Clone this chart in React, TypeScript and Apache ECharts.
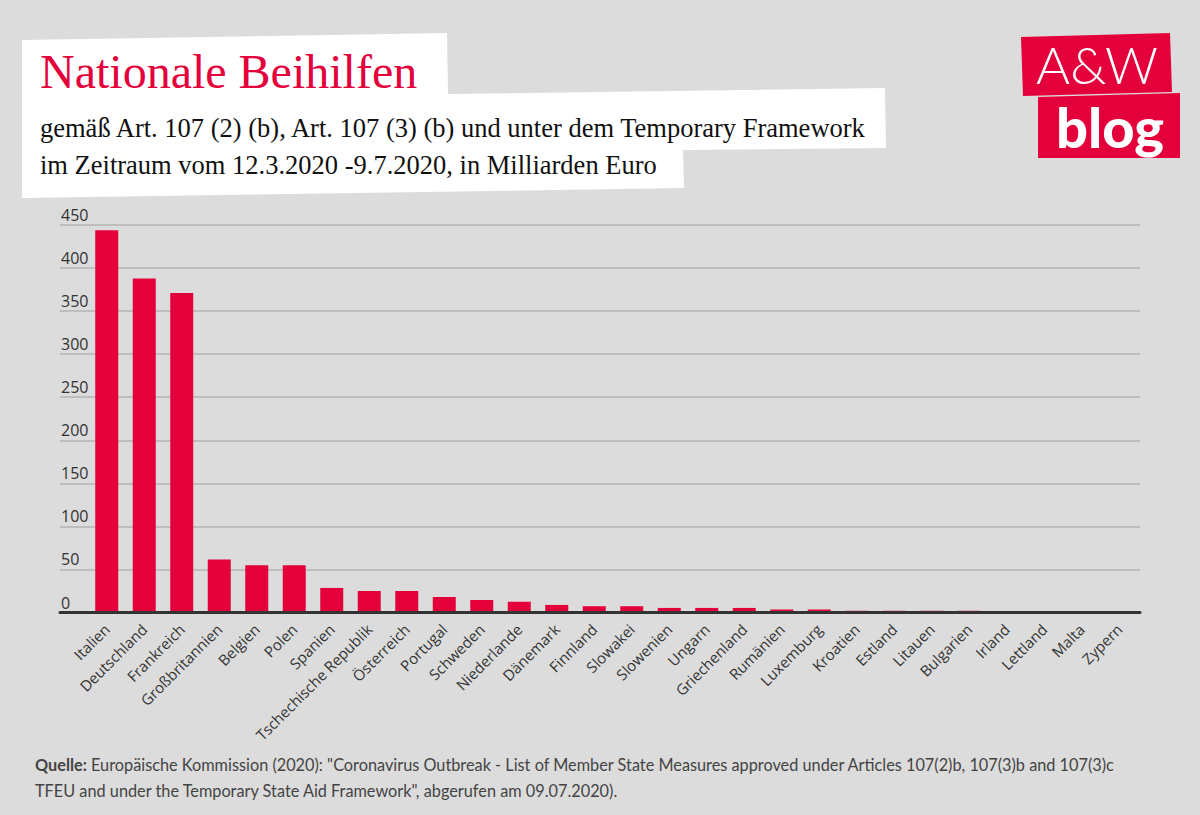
import React, { useEffect, useRef } from "react";
import * as echarts from "echarts";

const countries = [
  "Italien", "Deutschland", "Frankreich", "Großbritannien", "Belgien", "Polen", "Spanien",
  "Tschechische Republik", "Österreich", "Portugal", "Schweden", "Niederlande", "Dänemark",
  "Finnland", "Slowakei", "Slowenien", "Ungarn", "Griechenland", "Rumänien", "Luxemburg",
  "Kroatien", "Estland", "Litauen", "Bulgarien", "Irland", "Lettland", "Malta", "Zypern",
];
const values = [
  444, 388, 371, 61.5, 55, 55, 28.5, 25, 25, 18, 14.5, 12.5, 8.8, 7.3, 7.3, 5.3, 5.3, 5.3,
  3.5, 3.5, 2, 2, 2, 2, 0.3, 0.3, 0.2, 0.2,
];
const yMin = 0;
const yMax = 450;
const yStep = 50;

const title = "Nationale Beihilfen";
const subtitle1 = "gemäß Art. 107 (2) (b), Art. 107 (3) (b) und unter dem Temporary Framework";
const subtitle2 = "im Zeitraum vom 12.3.2020 -9.7.2020, in Milliarden Euro";
const sourceLabel = "Quelle:";
const source1 =
  ' Europäische Kommission (2020): "Coronavirus Outbreak - List of Member State Measures approved under Articles 107(2)b, 107(3)b and 107(3)c';
const source2 = 'TFEU and under the Temporary State Aid Framework", abgerufen am 09.07.2020).';

const RED = "#e4003b";
const BG = "#dcdcdc";

export default function App() {
  const ref = useRef<HTMLDivElement>(null);
  useEffect(() => {
    if (!ref.current) return;
    const chart = echarts.init(ref.current, null, { renderer: "svg" });
    const top = 225;
    const bottom = 815 - 612.5;
    const option: any = {
      animation: false,
      backgroundColor: BG,
      grid: [
        { left: 60, right: 60, top, bottom, containLabel: false },
        { left: 88, right: 62, top, bottom, containLabel: false },
      ],
      xAxis: [
        {
          gridIndex: 0,
          type: "category",
          data: [""],
          z: 10,
          axisLine: { show: true, lineStyle: { color: "#333333", width: 3 } },
          axisTick: { show: false },
          axisLabel: { show: false },
        },
        {
          gridIndex: 1,
          type: "category",
          data: countries,
          axisLine: { show: false },
          axisTick: { show: false },
          axisLabel: {
            rotate: 45,
            interval: 0,
            margin: 14,
            fontFamily: "Open Sans",
            fontSize: 15,
            color: "#333333",
          },
        },
      ],
      yAxis: [
        {
          gridIndex: 0,
          type: "value",
          min: yMin,
          max: yMax,
          interval: yStep,
          axisLine: { show: false },
          axisTick: { show: false },
          splitLine: { show: true, lineStyle: { color: "#b4b4b4", width: 1.5 } },
          axisLabel: {
            inside: true,
            margin: 1,
            verticalAlign: "bottom",
            padding: [0, 0, 2, 0],
            fontFamily: "Open Sans",
            fontSize: 16,
            color: "#333333",
          },
        },
        {
          gridIndex: 1,
          type: "value",
          min: yMin,
          max: yMax,
          show: false,
          splitLine: { show: false },
        },
      ],
      series: [
        {
          type: "bar",
          xAxisIndex: 1,
          yAxisIndex: 1,
          data: values,
          barWidth: 23,
          itemStyle: { color: RED },
        },
      ],
      graphic: [
        {
          type: "polygon",
          shape: {
            points: [
              [22, 40], [447, 33], [448, 94], [885, 88], [886, 148], [683, 150], [684, 188], [22, 198],
            ],
          },
          style: { fill: "#ffffff" },
          z: 1,
        },
        {
          type: "text",
          left: 40,
          top: 47,
          style: { text: title, fontFamily: "Liberation Serif", fontSize: 48, fill: RED },
          z: 2,
        },
        {
          type: "text",
          left: 40,
          top: 114,
          style: { text: subtitle1, fontFamily: "Liberation Serif", fontSize: 26.5, fill: "#111111" },
          z: 2,
        },
        {
          type: "text",
          left: 40,
          top: 151,
          style: { text: subtitle2, fontFamily: "Liberation Serif", fontSize: 26.5, fill: "#111111" },
          z: 2,
        },
        {
          type: "polygon",
          shape: { points: [[1021, 37], [1170, 33], [1172, 92], [1023, 96]] },
          style: { fill: RED },
          z: 1,
        },
        {
          type: "polygon",
          shape: { points: [[1038, 97], [1180, 93], [1180, 158], [1038, 158]] },
          style: { fill: RED },
          z: 1,
        },
        {
          type: "text",
          x: 1097,
          y: 64,
          style: {
            text: "A&W",
            fontFamily: "Lato",
            fontWeight: 300,
            fontSize: 52,
            lineHeight: 44,
            fill: "#ffffff",
            align: "center",
            verticalAlign: "middle",
          },
          z: 2,
        },
        {
          type: "text",
          x: 1110,
          y: 126,
          style: {
            text: "blog",
            fontFamily: "Lato",
            fontWeight: 900,
            fontSize: 56,
            lineHeight: 46,
            fill: "#ffffff",
            align: "center",
            verticalAlign: "middle",
          },
          z: 2,
        },
        {
          type: "text",
          left: 35,
          top: 756,
          style: {
            text: "{b|" + sourceLabel + "}{r|" + source1 + "}\n{r|" + source2 + "}",
            rich: {
              b: { fontFamily: "Lato", fontSize: 16.3, fontWeight: "bold", fill: "#444444", lineHeight: 26 },
              r: { fontFamily: "Lato", fontSize: 16.3, fill: "#444444", lineHeight: 26 },
            },
          },
          z: 2,
        },
      ],
    };
    chart.setOption(option);
    return () => chart.dispose();
  }, []);
  return (
    <div
      ref={ref}
      style={{ position: "fixed", left: 0, top: 0, width: 1200, height: 815 }}
    />
  );
}
